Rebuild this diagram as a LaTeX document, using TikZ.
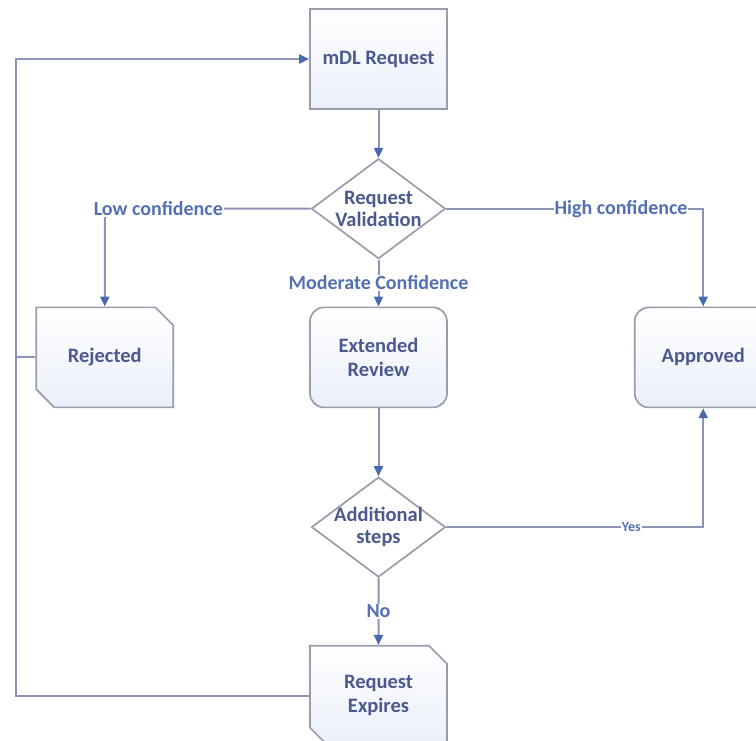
\documentclass[tikz,border=0pt]{standalone}
\usepackage{fontspec}
\setmainfont{Carlito}
\usetikzlibrary{shapes.geometric,shapes.misc,arrows.meta,positioning}

\definecolor{linegray}{HTML}{8C93B4}
\definecolor{tipblue}{HTML}{4A68B0}
\definecolor{boxline}{HTML}{9A9CAC}
\definecolor{boxfill}{HTML}{EAEFF9}
\definecolor{txtblue}{HTML}{4A5A8E}
\definecolor{lblblue}{HTML}{5270B2}

\begin{document}
\begin{tikzpicture}[
    x=1pt, y=1pt,
    base/.style={draw=boxline, line width=1.7pt, top color=white, bottom color=boxfill, text=txtblue, font=\fontsize{20.5}{24}\selectfont\bfseries, align=center, minimum width=137pt, minimum height=100pt, inner sep=0pt},
    process/.style={base, rectangle},
    state/.style={base, rectangle, rounded corners=14pt},
    ending/.style={base, chamfered rectangle, chamfered rectangle corners={north east,south west}, chamfered rectangle xsep=9pt, chamfered rectangle ysep=9pt},
    decision/.style={diamond, draw=boxline, line width=1.7pt, fill=white, minimum width=134pt, minimum height=100pt, inner sep=0pt},
    dtext/.style={text=txtblue, font=\fontsize{20.5}{22}\selectfont\bfseries, align=center, inner sep=0pt},
    flow/.style={draw=linegray, line width=2pt, -{Triangle[length=10pt,width=9pt,color=tipblue]}},
    link/.style={draw=linegray, line width=2pt},
    lbl/.style={fill=white, text=lblblue, font=\fontsize{20}{22}\selectfont\bfseries, inner sep=1pt},
]
    \useasboundingbox (0,0) rectangle (756,741);

    \node[process] (req) at (378.5,682) {mDL Request};
    \node[decision, below=48pt of req, label={[dtext]center:Request\\Validation}] (val) {};
    \node[state, below=47pt of val] (rev) {Extended\\Review};
    \node[ending, left=135pt of rev] (rej) {Rejected};
    \node[state, right=186pt of rev] (app) {Approved};
    \node[decision, below=68pt of rev, label={[dtext]center:Additional\\steps}] (add) {};
    \node[ending, below=67pt of add] (exp) {Request\\Expires};
    \coordinate (bend) at (16,0);

    \draw[flow] (req) -- (val);
    \draw[flow] (val.west) -- node[lbl, pos=0.74]{Low confidence} (val.west -| rej) -- (rej);
    \draw[flow] (val.east) -- node[lbl, pos=0.68]{High confidence} (val.east -| app) -- (app);
    \draw[flow] (val) -- node[lbl]{Moderate Confidence} (rev);
    \draw[flow] (rev) -- (add);
    \draw[flow] (add.east) -- node[lbl, font=\fontsize{14}{16}\selectfont\bfseries, pos=0.72]{Yes} (add.east -| app) -- (app);
    \draw[flow] (add) -- node[lbl]{No} (exp);
    \draw[flow] (exp.west) -| (bend |- req.west) -- (req.west);
    \draw[link] (rej.west) -- (rej.west -| bend);
\end{tikzpicture}
\end{document}
